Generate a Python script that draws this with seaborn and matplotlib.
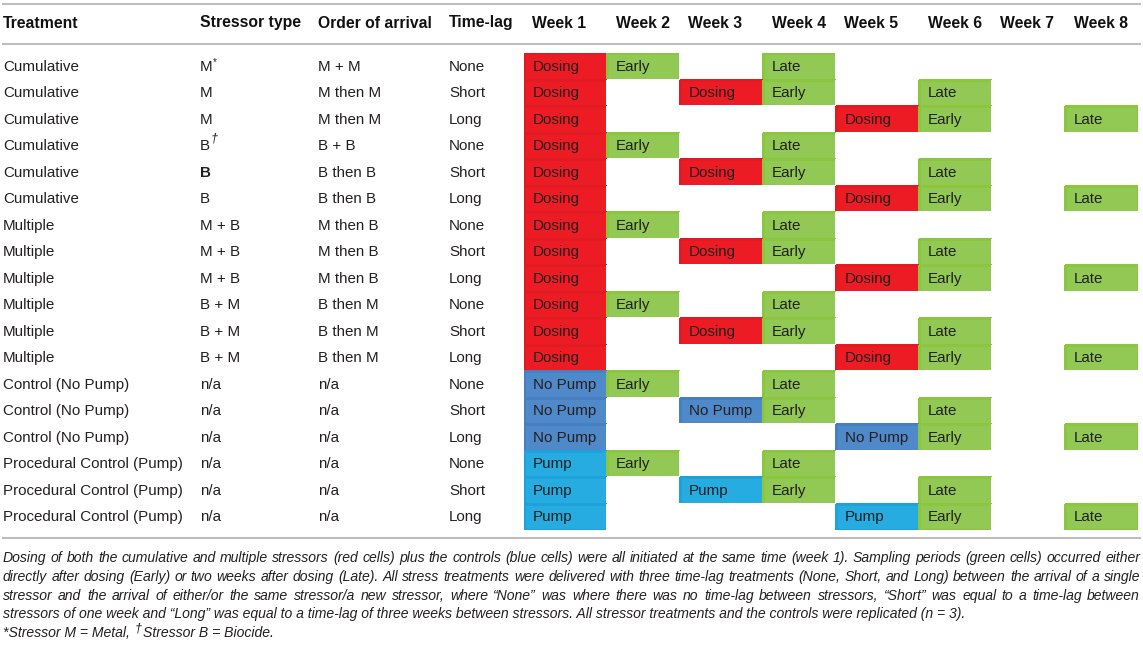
import numpy as np
import matplotlib
matplotlib.use("Agg")
import matplotlib.pyplot as plt
from matplotlib.colors import ListedColormap
from matplotlib.transforms import offset_copy
import seaborn as sns

# table content
columns = ["Treatment", "Stressor type", "Order of arrival", "Time-lag"]
weeks = ["Week 1", "Week 2", "Week 3", "Week 4", "Week 5", "Week 6", "Week 7", "Week 8"]

treatment = ["Cumulative"] * 6 + ["Multiple"] * 6 + ["Control (No Pump)"] * 3 + ["Procedural Control (Pump)"] * 3
stressor = ["M", "M", "M", "B", "B", "B", "M + B", "M + B", "M + B", "B + M", "B + M", "B + M",
            "n/a", "n/a", "n/a", "n/a", "n/a", "n/a"]
order = ["M + M", "M then M", "M then M", "B + B", "B then B", "B then B",
         "M then B", "M then B", "M then B", "B then M", "B then M", "B then M",
         "n/a", "n/a", "n/a", "n/a", "n/a", "n/a"]
time_lag = ["None", "Short", "Long"] * 6

schedule = [
    ["Dosing", "Early", "", "Late", "", "", "", ""],
    ["Dosing", "", "Dosing", "Early", "", "Late", "", ""],
    ["Dosing", "", "", "", "Dosing", "Early", "", "Late"],
    ["Dosing", "Early", "", "Late", "", "", "", ""],
    ["Dosing", "", "Dosing", "Early", "", "Late", "", ""],
    ["Dosing", "", "", "", "Dosing", "Early", "", "Late"],
    ["Dosing", "Early", "", "Late", "", "", "", ""],
    ["Dosing", "", "Dosing", "Early", "", "Late", "", ""],
    ["Dosing", "", "", "", "Dosing", "Early", "", "Late"],
    ["Dosing", "Early", "", "Late", "", "", "", ""],
    ["Dosing", "", "Dosing", "Early", "", "Late", "", ""],
    ["Dosing", "", "", "", "Dosing", "Early", "", "Late"],
    ["No Pump", "Early", "", "Late", "", "", "", ""],
    ["No Pump", "", "No Pump", "Early", "", "Late", "", ""],
    ["No Pump", "", "", "", "No Pump", "Early", "", "Late"],
    ["Pump", "Early", "", "Late", "", "", "", ""],
    ["Pump", "", "Pump", "Early", "", "Late", "", ""],
    ["Pump", "", "", "", "Pump", "Early", "", "Late"],
]

footnote = [
    "Dosing of both the cumulative and multiple stressors (red cells) plus the controls (blue cells) were all "
    "initiated at the same time (week 1). Sampling periods (green cells) occurred either",
    "directly after dosing (Early) or two weeks after dosing (Late). All stress treatments were delivered with "
    "three time-lag treatments (None, Short, and Long) between the arrival of a single",
    "stressor and the arrival of either/or the same stressor/a new stressor, where \u201cNone\u201d was where "
    "there was no time-lag between stressors, \u201cShort\u201d was equal to a time-lag between",
    "stressors of one week and \u201cLong\u201d was equal to a time-lag of three weeks between stressors. "
    "All stressor treatments and the controls were replicated (n = 3).",
]
footnote_last = ["*Stressor M = Metal, ", "\u2020", "Stressor B = Biocide."]

kinds = ["", "Dosing", "Early", "Late", "No Pump", "Pump"]
face = ["#FFFFFF", "#ED1C24", "#92C955", "#92C955", "#5089C9", "#27ACE2"]
edge = ["#FFFFFF", "#E01B23", "#8CC63F", "#8CC63F", "#4680C2", "#1FA2DA"]

# layout in pixels
W, H = 1143, 646
text_x = [3, 200, 318, 449]
week_edges = [524, 607, 680, 763, 836, 919, 992, 1065, 1138]
row_top, row_h = 53.3, 26.5
ink = "#231F20"
body_fs = 10.9
head_fs = 11.3

sns.set_theme(style="white")
plt.rcParams["font.family"] = ["Liberation Sans", "DejaVu Sans"]

fig = plt.figure(figsize=(W / 100, H / 100), dpi=100)
ax = fig.add_axes([0, 0, 1, 1])
ax.set_xlim(0, W)
ax.set_ylim(H, 0)
ax.axis("off")

# horizontal rules
for y in [3.5, 43.7, 538.3]:
    ax.plot([2, 1141], [y, y], color="#BDBDBD", lw=1.5, solid_capstyle="butt")

# headers
for x, name in zip(text_x, columns):
    ax.text(x, 23, name, fontsize=head_fs, fontweight="bold", color="#111111", va="center", ha="left")
for j, name in enumerate(weeks):
    ax.text(week_edges[j] + 8.5, 23, name, fontsize=head_fs, fontweight="bold", color="#111111",
            va="center", ha="left")

renderer = fig.canvas.get_renderer()


def text_width(s, **kw):
    t = ax.text(0, 0, s, **kw)
    w = t.get_window_extent(renderer).width
    t.remove()
    return w


# left text columns
for i in range(len(treatment)):
    y = row_top + row_h * (i + 0.5)
    weight = "bold" if i == 4 else "normal"
    ax.text(text_x[0], y, treatment[i], fontsize=body_fs, color=ink, va="center")
    ax.text(text_x[1], y, stressor[i], fontsize=body_fs, color=ink, va="center", fontweight=weight)
    ax.text(text_x[2], y, order[i], fontsize=body_fs, color=ink, va="center")
    ax.text(text_x[3], y, time_lag[i], fontsize=body_fs, color=ink, va="center")

# superscripts on the first M and first B
wm = text_width("M", fontsize=body_fs)
ax.text(text_x[1] + wm + 0.5, row_top + row_h * 0.5 - 4, "*", fontsize=7, color=ink, va="center")
wb = text_width("B", fontsize=body_fs)
ax.text(text_x[1] + wb + 1, row_top + row_h * 3.5 - 8, "\u2020", fontsize=9, style="italic",
        color=ink, va="center")

# coloured schedule grid
codes = np.array([[kinds.index(c) for c in row] for row in schedule])
ax_grid = fig.add_axes([week_edges[0] / W, 1 - (row_top + row_h * len(schedule)) / H,
                        (week_edges[-1] - week_edges[0]) / W, row_h * len(schedule) / H])
sns.heatmap(codes, cmap=ListedColormap(face), vmin=-0.5, vmax=len(kinds) - 0.5, cbar=False,
            linewidths=0.9, linecolor="white", ax=ax_grid)
mesh = ax_grid.collections[0]
mesh.set_edgecolor([edge[c] for c in codes.ravel()])

idx = np.arange(len(week_edges), dtype=float)
edges_px = np.array(week_edges, dtype=float)
ax_grid.set_xscale("function", functions=(lambda v: np.interp(v, idx, edges_px),
                                          lambda p: np.interp(p, edges_px, idx)))
ax_grid.set_xlim(0, len(weeks))
ax_grid.axis("off")

pad = offset_copy(ax_grid.transData, fig=fig, x=9, y=0, units="dots")
for i, row in enumerate(schedule):
    for j, label in enumerate(row):
        if label:
            ax_grid.text(j, i + 0.5, label, transform=pad, fontsize=body_fs, color=ink,
                         va="center", ha="left")

# footnote, first three lines justified
foot_x0, foot_x1 = 3, 1140
foot_y = [558, 576.8, 595.6, 614.4, 633.2]
fs_foot = 10 * (foot_x1 - foot_x0) / text_width(footnote[0], fontsize=10, style="italic")
space_w = text_width("a b", fontsize=fs_foot, style="italic") - text_width("ab", fontsize=fs_foot, style="italic")

for k, line in enumerate(footnote):
    if k < 3:
        words = line.split(" ")
        widths = [text_width(wd, fontsize=fs_foot, style="italic") for wd in words]
        gap = (foot_x1 - foot_x0 - sum(widths)) / (len(words) - 1)
        x = foot_x0
        for wd, wdt in zip(words, widths):
            ax.text(x, foot_y[k], wd, fontsize=fs_foot, style="italic", color=ink, va="center")
            x += wdt + gap
    else:
        ax.text(foot_x0, foot_y[k], line, fontsize=fs_foot, style="italic", color=ink, va="center")

x = foot_x0
ax.text(x, foot_y[4], footnote_last[0], fontsize=fs_foot, style="italic", color=ink, va="center")
x += text_width(footnote_last[0], fontsize=fs_foot, style="italic") + space_w * 0.2
ax.text(x, foot_y[4] - 5, footnote_last[1], fontsize=fs_foot * 0.9, style="italic", color=ink, va="center")
x += text_width(footnote_last[1], fontsize=fs_foot * 0.9, style="italic") + 1
ax.text(x, foot_y[4], footnote_last[2], fontsize=fs_foot, style="italic", color=ink, va="center")

fig.savefig("out.png", dpi=100)
